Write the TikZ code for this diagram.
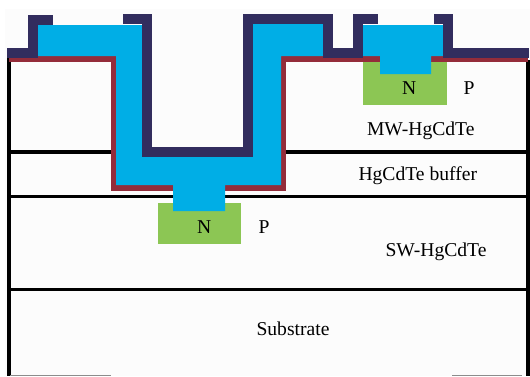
\documentclass[tikz,border=0pt]{standalone}
\usepackage{fontspec}
\setmainfont{Liberation Serif}
\definecolor{passnavy}{RGB}{50,45,94}
\definecolor{metalcyan}{RGB}{0,174,230}
\definecolor{junctiongreen}{RGB}{140,198,84}
\definecolor{oxidered}{RGB}{148,44,58}
\definecolor{waferwhite}{RGB}{252,252,252}
\tikzset{every picture/.style={line width=0.75pt}}
\tikzset{
  layerline/.style={draw=black,line width=2.8pt},
  edgeline/.style={draw=black!45,line width=0.9pt},
  oxideline/.style={draw=oxidered,line width=4.4pt,line join=miter},
  passline/.style={draw=passnavy,line width=7.5pt,line join=miter},
  labeltext/.style={anchor=north west,inner sep=0.75pt,align=left,font=\fontsize{14.7}{17}\selectfont}
}
\begin{document}
\begin{tikzpicture}[x=0.75pt,y=0.75pt,yscale=-1,xscale=1]
    \useasboundingbox (0,0) rectangle (530,376);
    %Shapes
    \fill[white] (0,0) rectangle (530,376);
    \fill[waferwhite] (5,9) rectangle (530,376);
    
    %Straight Lines
    \draw[layerline]    (9,49) -- (9,376) ;
    \draw[layerline]    (528,60) -- (528,376) ;
    \draw[layerline]    (9,152) -- (528,152) ;
    \draw[layerline]    (9,196.5) -- (528,196.5) ;
    \draw[layerline]    (9,289.5) -- (528,289.5) ;
    \draw[edgeline]    (10,375.5) -- (111,375.5) ;
    \draw[edgeline]    (452,375.5) -- (522,375.5) ;
    
    %Green wells
    \fill[junctiongreen] (363,60) rectangle (447,105) ;
    \fill[junctiongreen] (158,203) rectangle (241,244) ;
    
    %White window in the trench
    \fill[waferwhite] (147,20) rectangle (248,147) ;
    \fill[waferwhite] (116,62) rectangle (142,152) ;
    
    %Oxide
    \draw[oxideline]    (9,59) -- (114,59) -- (114,188) -- (283,188) -- (283,59) -- (528,59) ;
    
    %Contact metal
    \fill[metalcyan] (38,25) -- (147,25) -- (147,157) -- (248,157) -- (248,24) -- (328,24) -- (328,56) -- (281,56) -- (281,185) -- (225,185) -- (225,211) -- (173,211) -- (173,185) -- (116,185) -- (116,56) -- (38,56) -- cycle ;
    \fill[metalcyan] (363,25) -- (443,25) -- (443,56) -- (431,56) -- (431,74) -- (380,74) -- (380,56) -- (363,56) -- cycle ;
    
    %Passivation
    \draw[passline]    (7,53) -- (33,53) -- (33,20) -- (53,20) ;
    \draw[passline]    (123,19) -- (147,19) -- (147,152) -- (248,152) -- (248,19) -- (328,19) -- (328,53) -- (358,53) -- (358,19) -- (378,19) ;
    \draw[passline]    (434,19) -- (448,19) -- (448,53) -- (529,53) ;
    
    % Text Node
    \draw (400.5,80) node (nTop) [labeltext] {N};
    % Text Node
    \draw (462,80) node (pTop) [labeltext] {P};
    % Text Node
    \draw (365.5,120) node (mwLayer) [labeltext] {MW-HgCdTe};
    % Text Node
    \draw (357,165) node (bufferLayer) [labeltext] {HgCdTe buffer};
    % Text Node
    \draw (195.5,219) node (nBottom) [labeltext] {N};
    % Text Node
    \draw (257,219) node (pBottom) [labeltext] {P};
    % Text Node
    \draw (384,241) node (swLayer) [labeltext] {SW-HgCdTe};
    % Text Node
    \draw (255,320) node (substrateLayer) [labeltext] {Substrate};
    
\end{tikzpicture}
\end{document}
